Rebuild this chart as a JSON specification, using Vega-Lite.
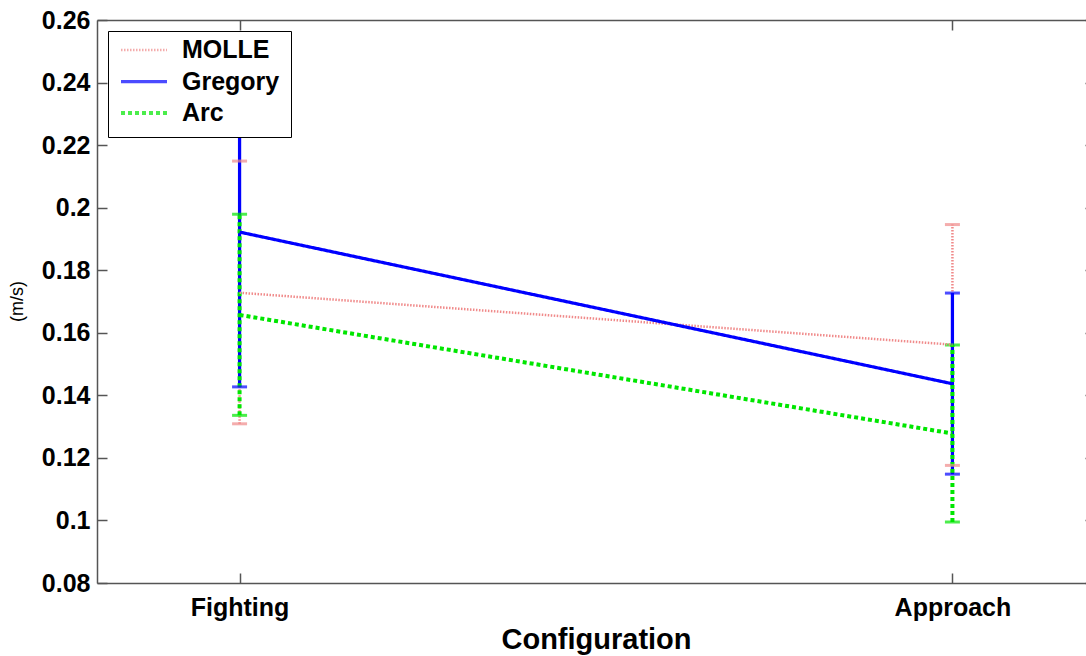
{
  "$schema": "https://vega.github.io/schema/vega-lite/v6.json",
  "width": 998,
  "height": 563,
  "autosize": "none",
  "padding": {"left": 97, "top": 20, "right": 0, "bottom": 73},
  "background": "white",
  "config": {
    "view": {"stroke": null},
    "font": "Liberation Sans",
    "legend": {
      "orient": "none", "legendX": 11, "legendY": 11, "title": null,
      "direction": "vertical",
      "symbolType": "stroke", "symbolSize": 2116, "clipHeight": 16,
      "labelFont": "Liberation Sans", "labelFontSize": 25, "labelFontWeight": "bold", "labelColor": "#000",
      "labelOffset": 13, "padding": 11, "rowPadding": 6.5,
      "strokeColor": "#000", "fillColor": "#fff", "cornerRadius": 0
    }
  },
  "data": {
    "values": [
      {"series": "MOLLE", "config": 1, "mean": 0.1728, "lo": 0.1309, "hi": 0.2149},
      {"series": "Gregory", "config": 1, "mean": 0.1922, "lo": 0.1427, "hi": 0.2417},
      {"series": "Arc", "config": 1, "mean": 0.1657, "lo": 0.1336, "hi": 0.1979},
      {"series": "MOLLE", "config": 2, "mean": 0.1562, "lo": 0.1176, "hi": 0.1946},
      {"series": "Gregory", "config": 2, "mean": 0.1437, "lo": 0.1148, "hi": 0.1727},
      {"series": "Arc", "config": 2, "mean": 0.1278, "lo": 0.0995, "hi": 0.1561}
    ]
  },
  "layer": [
    {
      "mark": {"type": "rule"},
      "encoding": {
        "x": {
          "field": "config", "type": "quantitative",
          "scale": {"domain": [0.8, 2.2], "nice": false, "zero": false},
          "axis": {
            "orient": "bottom", "values": [1, 2],
            "labelExpr": "datum.value == 1 ? 'Fighting' : 'Approach'",
            "labelFont": "Liberation Sans", "labelFontSize": 25, "labelFontWeight": "bold", "labelColor": "#000",
            "labelPadding": 22, "labelFlush": false,
            "tickSize": -10, "tickColor": "#555", "tickWidth": 1.5,
            "domainColor": "#555", "domainWidth": 1.5, "grid": false,
            "title": "Configuration", "titleFont": "Liberation Sans", "titleFontSize": 29, "titleFontWeight": "bold", "titleColor": "#000",
            "titleX": 499, "titleY": 65, "titleAlign": "center", "titleBaseline": "alphabetic"
          }
        },
        "y": {
          "field": "lo", "type": "quantitative",
          "scale": {"domain": [0.08, 0.26], "nice": false, "zero": false},
          "axis": {
            "orient": "left",
            "values": [0.08, 0.1, 0.12, 0.14, 0.16, 0.18, 0.2, 0.22, 0.24, 0.26],
            "format": "~g",
            "labelFont": "Liberation Sans", "labelFontSize": 25, "labelFontWeight": "bold", "labelColor": "#000",
            "labelPadding": 17, "labelFlush": false, "labelOverlap": false,
            "tickSize": -10, "tickColor": "#555", "tickWidth": 1.5,
            "domainColor": "#555", "domainWidth": 1.5, "grid": false,
            "title": "(m/s)", "titleFont": "Liberation Sans", "titleFontSize": 18, "titleFontWeight": "normal", "titleColor": "#000",
            "titleX": -80, "titleY": 281, "titleAngle": -90, "titleAlign": "center", "titleBaseline": "middle"
          }
        },
        "y2": {"field": "hi"},
        "color": {
          "field": "series", "type": "nominal",
          "scale": {"domain": ["MOLLE", "Gregory", "Arc"], "range": ["#f08a8a", "#0000ff", "#00e600"]}
        },
        "strokeDash": {
          "field": "series", "type": "nominal",
          "scale": {"domain": ["MOLLE", "Gregory", "Arc"], "range": [[1.5, 1.5], [1, 0], [4, 3]]}
        },
        "strokeWidth": {
          "field": "series", "type": "nominal",
          "scale": {"domain": ["MOLLE", "Gregory", "Arc"], "range": [2.5, 4, 4]}
        }
      }
    },
    {
      "transform": [{"fold": ["lo", "hi"], "as": ["end", "val"]}],
      "mark": {"type": "tick", "orient": "horizontal", "size": 15, "thickness": 3},
      "encoding": {
        "x": {
          "field": "config", "type": "quantitative",
          "axis": {
            "orient": "top", "values": [1, 2], "labels": false, "title": null,
            "tickSize": -10, "tickColor": "#555", "tickWidth": 1.5,
            "domainColor": "#555", "domainWidth": 1.5, "grid": false
          }
        },
        "y": {
          "field": "val", "type": "quantitative",
          "axis": {
            "orient": "right",
            "values": [0.08, 0.1, 0.12, 0.14, 0.16, 0.18, 0.2, 0.22, 0.24, 0.26],
            "labels": false, "title": null,
            "tickSize": -10, "tickColor": "#555", "tickWidth": 1.5,
            "domainColor": "#555", "domainWidth": 1.5, "grid": false
          }
        },
        "color": {"field": "series", "type": "nominal"}
      }
    },
    {
      "mark": {"type": "line"},
      "encoding": {
        "x": {"field": "config", "type": "quantitative", "axis": null},
        "y": {"field": "mean", "type": "quantitative", "axis": null},
        "color": {"field": "series", "type": "nominal"},
        "strokeDash": {"field": "series", "type": "nominal"},
        "strokeWidth": {"field": "series", "type": "nominal"}
      }
    }
  ],
  "resolve": {"axis": {"x": "independent", "y": "independent"}}
}
